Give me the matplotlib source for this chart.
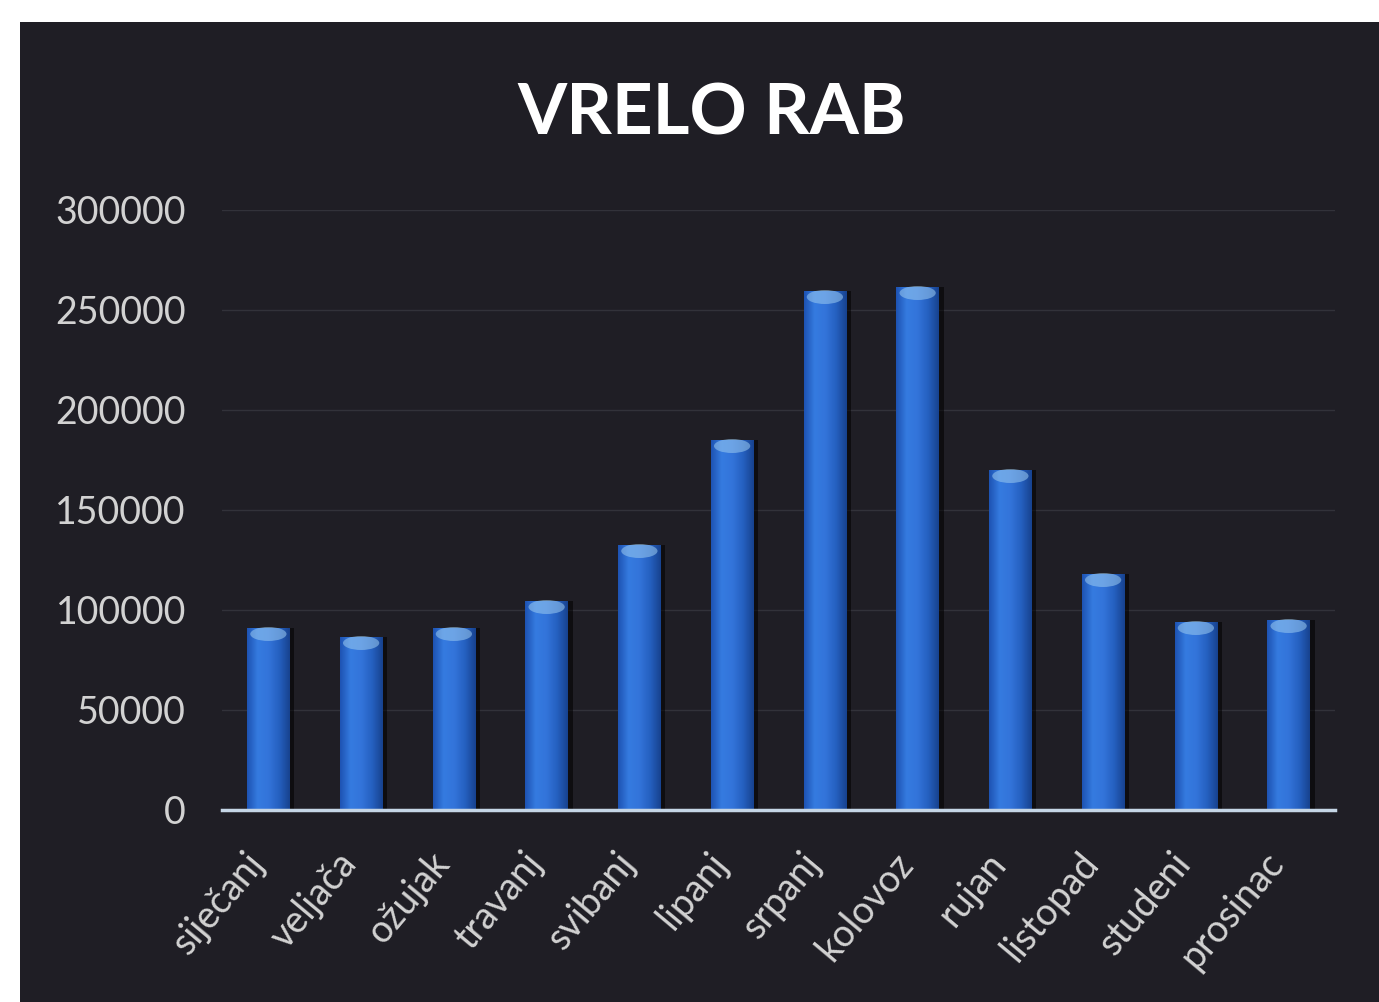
import numpy as np
import matplotlib.pyplot as plt
import matplotlib.transforms as mtransforms
from matplotlib.colors import LinearSegmentedColormap
from matplotlib.patches import Ellipse, Rectangle

plt.rcParams['font.family'] = ['Lato', 'DejaVu Sans']

# mjesečni podaci
mjeseci = ['siječanj', 'veljača', 'ožujak', 'travanj', 'svibanj', 'lipanj',
           'srpanj', 'kolovoz', 'rujan', 'listopad', 'studeni', 'prosinac']
vrijednosti = [91000, 86500, 91000, 104500, 132500, 185000,
               259500, 261500, 170000, 118000, 94000, 95000]
y_oznake = [0, 50000, 100000, 150000, 200000, 250000, 300000]

W, H = 1379, 1002
fig = plt.figure(figsize=(W / 100, H / 100), dpi=100, facecolor='white')

# tamna podloga (bijeli rub gore i lijevo)
fig.patches.append(Rectangle((20 / W, 0), 1, 1 - 22 / H, transform=fig.transFigure,
                             facecolor='#1f1e25', edgecolor='none', zorder=-10))

ax = fig.add_axes([222 / W, 1 - 810 / H, (1335 - 222) / W, 600 / H])
ax.set_facecolor('none')

x = np.arange(len(mjeseci))
sirina = 0.46

# sjena desno od stupaca
ax.bar(x + 0.05, vrijednosti, width=sirina, color='black', alpha=0.55, zorder=1)
stupci = ax.bar(x, vrijednosti, width=sirina, color='#2a66c8', zorder=2)

# cilindrično sjenčanje stupaca
cmap = LinearSegmentedColormap.from_list('cil', ['#1d52b2', '#357be0', '#3374da', '#2560c0', '#17428e'])
grad = np.linspace(0, 1, 256).reshape(1, -1)
for s, v in zip(stupci, vrijednosti):
    x0 = s.get_x()
    im = ax.imshow(grad, cmap=cmap, aspect='auto', extent=[x0, x0 + sirina, 0, v],
                   zorder=3, interpolation='bicubic')
    im.set_clip_path(s)
    ax.add_patch(Ellipse((x0 + sirina / 2, v - 3000), sirina * 0.85, 7000,
                         facecolor='#9ccbf0', edgecolor='none', alpha=0.55, zorder=4))

ax.set_xlim(-0.5, len(mjeseci) - 0.5)
ax.set_ylim(0, 300000)
ax.set_yticks(y_oznake)
ax.set_yticklabels([str(v) for v in y_oznake], fontsize=27, color='#d2d2d2')
ax.grid(axis='y', color='#32323a', lw=1, zorder=0)
ax.set_axisbelow(True)

ax.set_xticks(x)
ax.set_xticklabels(mjeseci, fontsize=27, color='#d2d2d2', rotation=50,
                   ha='right', va='center', rotation_mode='anchor')
ax.tick_params(axis='x', length=0, pad=34)
ax.tick_params(axis='y', length=0, pad=26)
pomak = mtransforms.ScaledTranslation(-8 / 72, 0, fig.dpi_scale_trans)
for lbl in ax.get_xticklabels():
    lbl.set_transform(lbl.get_transform() + pomak)

for sp in ['top', 'right', 'left']:
    ax.spines[sp].set_visible(False)
ax.spines['bottom'].set_color('#c5d6e6')
ax.spines['bottom'].set_linewidth(2.5)
ax.spines['bottom'].set_zorder(5)

fig.text(712 / W, 1 - 114 / H, 'VRELO RAB', ha='center', va='center',
         fontsize=51, fontweight='bold', color='white')

fig.savefig('out.png', dpi=100, facecolor=fig.get_facecolor())
